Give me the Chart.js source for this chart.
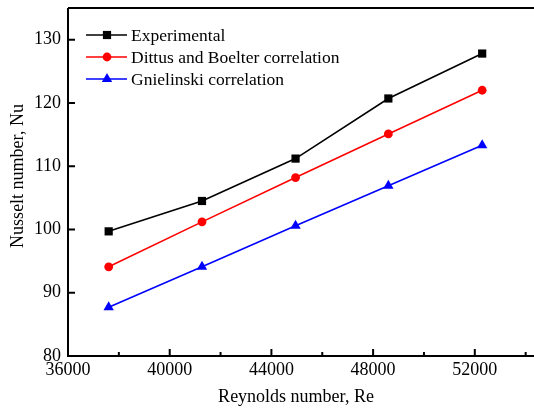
<!DOCTYPE html>
<html>
<head>
<meta charset="utf-8">
<script src="https://cdn.jsdelivr.net/npm/chart.js@4.4.0/dist/chart.umd.min.js"></script>
<style>
html,body{margin:0;padding:0;background:#fff;overflow:hidden;width:534px;height:408px;}
#wrap{width:552px;height:408px;}
</style>
</head>
<body>
<div id="wrap"><canvas id="c" width="552" height="408"></canvas></div>
<script>
// ---- data ----
const reynolds = [37600, 41270, 44950, 48600, 52290];
const experimental = [99.7, 104.5, 111.2, 120.7, 127.8];
const dittusBoelter = [94.1, 101.2, 108.2, 115.1, 122.0];
const gnielinski = [87.7, 94.1, 100.6, 106.9, 113.3];
const seriesNames = ['Experimental', 'Dittus and Boelter correlation', 'Gnielinski correlation'];
const xTicks = [36000, 40000, 44000, 48000, 52000];
const xMinorTicks = [38000, 42000, 46000, 50000, 54000];
const yTicks = [80, 90, 100, 110, 120, 130];
const xTitle = 'Reynolds number, Re';
const yTitle = 'Nusselt number, Nu';

const FONT = '"Liberation Serif", "Times New Roman", serif';
const colors = ['#000000', '#ff0000', '#0000ff'];
const styles = ['rect', 'circle', 'triangle'];
const radii = [5.8, 4.4, 6.0];

function pts(ys){ return reynolds.map((x,i)=>({x:x, y:ys[i]})); }
const allSeries = [experimental, dittusBoelter, gnielinski];

const datasets = allSeries.map((s,i)=>({
  label: seriesNames[i],
  data: pts(s),
  showLine: true,
  borderColor: colors[i],
  backgroundColor: colors[i],
  borderWidth: 1.6,
  pointStyle: styles[i],
  pointRadius: radii[i],
  pointHoverRadius: radii[i],
  pointBackgroundColor: colors[i],
  pointBorderColor: colors[i],
  pointBorderWidth: 0,
  tension: 0
}));

const framePlugin = {
  id: 'frame',
  afterDraw(chart){
    const ctx = chart.ctx;
    const a = chart.chartArea;
    const xs = chart.scales.x, ys = chart.scales.y;
    ctx.save();
    ctx.strokeStyle = '#000';
    ctx.lineWidth = 2;
    ctx.beginPath();
    ctx.moveTo(a.left, a.top); ctx.lineTo(a.right, a.top);
    ctx.moveTo(a.left, a.top); ctx.lineTo(a.left, a.bottom);
    ctx.moveTo(a.left-1, a.bottom); ctx.lineTo(a.right, a.bottom);
    ctx.stroke();
    // ticks
    ctx.lineWidth = 2;
    ctx.beginPath();
    xTicks.forEach(v=>{ const p = xs.getPixelForValue(v); ctx.moveTo(p, a.bottom); ctx.lineTo(p, a.bottom-7); });
    xMinorTicks.forEach(v=>{ const p = xs.getPixelForValue(v); ctx.moveTo(p, a.bottom); ctx.lineTo(p, a.bottom-4); });
    yTicks.forEach(v=>{ const p = ys.getPixelForValue(v); ctx.moveTo(a.left, p); ctx.lineTo(a.left+7, p); });
    ctx.stroke();
    // axis titles
    ctx.fillStyle = '#000';
    ctx.font = '18px ' + FONT;
    ctx.textAlign = 'center';
    ctx.textBaseline = 'middle';
    ctx.fillText(xTitle, 296, 397);
    ctx.translate(18, 176);
    ctx.rotate(-Math.PI/2);
    ctx.fillText(yTitle, 0, 0);
    ctx.restore();
    // legend
    ctx.save();
    const rows = [35, 57, 79];
    chart.data.datasets.forEach((ds,i)=>{
      const y = rows[i];
      ctx.strokeStyle = ds.borderColor;
      ctx.lineWidth = 1.6;
      ctx.beginPath(); ctx.moveTo(86, y); ctx.lineTo(127, y); ctx.stroke();
      ctx.fillStyle = ds.borderColor;
      Chart.helpers.drawPoint(ctx, {pointStyle: ds.pointStyle, radius: ds.pointRadius, borderWidth: 0}, 107, y);
      ctx.fillStyle = '#000';
      ctx.font = '17.5px ' + FONT;
      ctx.textAlign = 'left';
      ctx.textBaseline = 'middle';
      ctx.fillText(ds.label, 131, y + 1);
    });
    ctx.restore();
  }
};

new Chart(document.getElementById('c'), {
  type: 'scatter',
  data: { datasets },
  options: {
    responsive: false,
    animation: false,
    devicePixelRatio: 1,
    layout: { padding: { top: 8, right: 1, left: 0, bottom: 0 } },
    plugins: { legend: { display: false }, tooltip: { enabled: false } },
    scales: {
      x: {
        type: 'linear', min: 36000, max: 54800,
        afterBuildTicks: s => { s.ticks = xTicks.map(v=>({value:v})); },
        afterFit: s => { s.height = 52; s.paddingLeft = 0; s.paddingRight = 0; },
        grid: { display: false, drawTicks: false },
        border: { display: false },
        ticks: { color: '#000', font: { family: FONT, size: 18 }, padding: 3, maxRotation: 0, autoSkip: false, callback: v => String(v) }
      },
      y: {
        type: 'linear', min: 80, max: 135,
        afterBuildTicks: s => { s.ticks = yTicks.map(v=>({value:v})); },
        afterFit: s => { s.width = 68; s.paddingTop = 0; s.paddingBottom = 0; },
        grid: { display: false, drawTicks: false },
        border: { display: false },
        ticks: { color: '#000', font: { family: FONT, size: 18 }, padding: 7, autoSkip: false, callback: v => String(v) }
      }
    }
  },
  plugins: [framePlugin]
});
</script>
</body>
</html>
